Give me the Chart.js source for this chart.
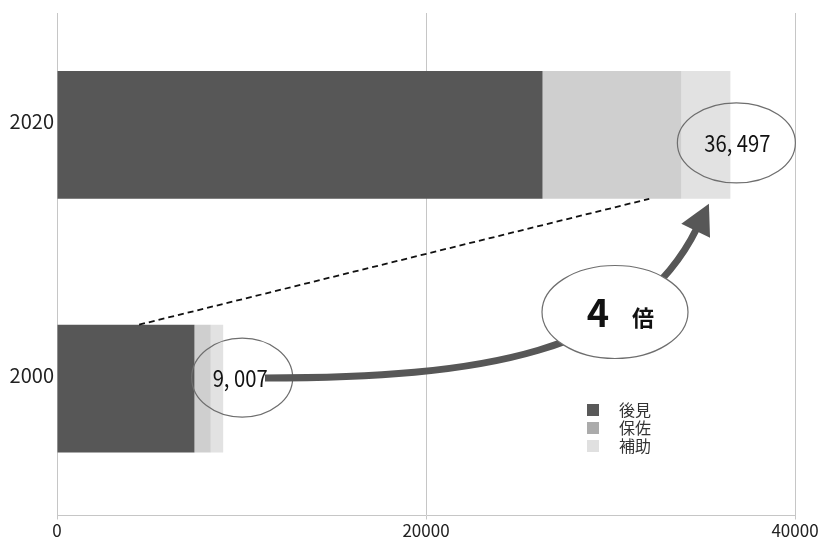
<!DOCTYPE html>
<html lang="ja">
<head>
<meta charset="utf-8">
<script src="https://cdn.jsdelivr.net/npm/chart.js@4.4.1/dist/chart.umd.min.js"></script>
<style>
  html, body { margin: 0; padding: 0; background: #fff; }
  #wrap { width: 822px; height: 541px; }
</style>
</head>
<body>
<div id="wrap"><canvas id="chart" width="822" height="541"></canvas></div>
<script>
// years on the category axis, top to bottom
const years = ['2020', '2000'];
// case counts per type
const koukenCounts = [26317, 7451];
const hosaCounts = [7530, 884];
const hojoCounts = [2650, 672];
const seriesNames = ['後見', '保佐', '補助'];
const xTicks = [0, 20000, 40000];
const ratioLabel = '4';

const barColors = ['#575757', '#cfcfcf', '#e2e2e2'];
const legendColors = ['#595959', '#ababab', '#e0e0e0'];
const FONT = '"Noto Sans CJK JP", "Noto Sans", sans-serif';

const totals = years.map((y, i) => koukenCounts[i] + hosaCounts[i] + hojoCounts[i]);
const fmt = n => n.toLocaleString('en-US').replace(',', ', ');

// narrow digits for the total bubbles
function condensedText(ctx, text, x, y, size, sx) {
  ctx.save();
  ctx.translate(x, y);
  ctx.scale(sx, 1);
  ctx.font = size + 'px ' + FONT;
  ctx.textAlign = 'center';
  ctx.textBaseline = 'middle';
  ctx.fillStyle = '#111';
  ctx.fillText(text, 0, 0);
  ctx.restore();
}

function ellipse(ctx, cx, cy, rx, ry, fill) {
  ctx.beginPath();
  ctx.ellipse(cx, cy, rx, ry, 0, 0, Math.PI * 2);
  if (fill) {
    ctx.fillStyle = fill;
    ctx.fill();
  }
  ctx.strokeStyle = '#6e6e6e';
  ctx.lineWidth = 1.2;
  ctx.stroke();
}

// grid lines start a little below the top of the plot
const gridTrim = {
  id: 'gridTrim',
  beforeDatasetsDraw(chart) {
    const a = chart.chartArea;
    chart.ctx.save();
    chart.ctx.fillStyle = '#fff';
    chart.ctx.fillRect(a.left - 2, 0, a.right - a.left + 4, 13);
    chart.ctx.restore();
  }
};

const annotations = {
  id: 'annotations',
  afterDatasetsDraw(chart) {
    const ctx = chart.ctx;
    const xs = chart.scales.x;
    const bars = chart.getDatasetMeta(0).data;
    const top2020 = bars[0], bar2000 = bars[1];
    const bottom2020 = top2020.y + top2020.height / 2;
    const top2000 = bar2000.y - bar2000.height / 2;

    // dashed guide between the two bars
    ctx.save();
    ctx.setLineDash([6, 4]);
    ctx.strokeStyle = '#111';
    ctx.lineWidth = 1.8;
    ctx.beginPath();
    ctx.moveTo(xs.getPixelForValue(4450), top2000);
    ctx.lineTo(xs.getPixelForValue(32100), bottom2020);
    ctx.stroke();
    ctx.restore();

    // total bubbles
    const c1x = xs.getPixelForValue(totals[0]) + 6, c1y = top2020.y + 8;
    ellipse(ctx, c1x, c1y, 59, 40, null);
    condensedText(ctx, fmt(totals[0]), c1x + 1, c1y, 23, 0.88);

    const c2x = xs.getPixelForValue(totals[1]) + 19, c2y = bar2000.y - 11;
    ellipse(ctx, c2x, c2y, 50.5, 39.5, null);
    condensedText(ctx, fmt(totals[1]), c2x - 2, c2y + 1, 23, 0.88);

    // curved arrow from the 2000 total up to the 2020 total
    const p0 = [265, 378], p1 = [480, 378], p2 = [635, 354], p3 = [697, 228];
    ctx.save();
    ctx.strokeStyle = '#575757';
    ctx.fillStyle = '#575757';
    ctx.lineWidth = 7;
    ctx.beginPath();
    ctx.moveTo(p0[0], p0[1]);
    ctx.bezierCurveTo(p1[0], p1[1], p2[0], p2[1], p3[0], p3[1]);
    ctx.stroke();
    const dx = p3[0] - p2[0], dy = p3[1] - p2[1];
    const len = Math.hypot(dx, dy);
    const ux = dx / len, uy = dy / len;
    const bx = p3[0] - ux * 3, by = p3[1] - uy * 3;
    const headLen = 30, half = 16;
    ctx.beginPath();
    ctx.moveTo(bx + ux * headLen, by + uy * headLen);
    ctx.lineTo(bx - uy * half, by + ux * half);
    ctx.lineTo(bx + uy * half, by - ux * half);
    ctx.closePath();
    ctx.fill();
    ctx.restore();

    // ratio bubble
    ellipse(ctx, 615, 312, 73, 46.5, '#fff');
    ctx.save();
    ctx.fillStyle = '#111';
    ctx.textBaseline = 'alphabetic';
    ctx.textAlign = 'center';
    ctx.font = 'bold 38px ' + FONT;
    ctx.fillText(ratioLabel, 598, 327);
    ctx.font = 'bold 22px ' + FONT;
    ctx.fillText('倍', 643, 326);
    ctx.restore();

    // legend
    ctx.save();
    ctx.font = '16px ' + FONT;
    ctx.textBaseline = 'middle';
    ctx.textAlign = 'left';
    seriesNames.forEach((name, i) => {
      const y = 410 + i * 18;
      ctx.fillStyle = legendColors[i];
      ctx.fillRect(587, y - 6, 12, 12);
      ctx.fillStyle = '#333';
      ctx.fillText(name, 619, y);
    });
    ctx.restore();
  }
};

const seriesValues = [koukenCounts, hosaCounts, hojoCounts];

new Chart(document.getElementById('chart'), {
  type: 'bar',
  data: {
    labels: years,
    datasets: seriesNames.map((name, i) => ({
      label: name,
      data: seriesValues[i],
      backgroundColor: barColors[i],
      borderWidth: 0,
      categoryPercentage: 1,
      barPercentage: 0.504,
    })),
  },
  options: {
    indexAxis: 'y',
    responsive: false,
    animation: false,
    devicePixelRatio: 1,
    layout: { padding: { top: 8, right: 27, left: 0, bottom: 0 } },
    plugins: {
      legend: { display: false },
      tooltip: { enabled: false },
    },
    scales: {
      x: {
        stacked: true,
        min: 0,
        max: 40000,
        afterBuildTicks: axis => { axis.ticks = xTicks.map(v => ({ value: v })); },
        afterFit: axis => { axis.height = 25.5; },
        grid: { color: '#c6c6c6', lineWidth: 1, tickLength: 4 },
        border: { color: '#c6c6c6' },
        ticks: {
          color: '#222',
          font: { family: FONT, size: 17 },
          padding: 1,
          maxRotation: 0,
          callback: v => String(v),
        },
      },
      y: {
        stacked: true,
        afterFit: axis => {
          axis.width = 57;
          axis.paddingTop = 0;
          axis.paddingBottom = 0;
        },
        grid: { display: false, drawTicks: false },
        border: { display: true, color: '#c6c6c6' },
        ticks: {
          color: '#222',
          font: { family: FONT, size: 20 },
          padding: 3,
          labelOffset: -13,
        },
      },
    },
  },
  plugins: [gridTrim, annotations],
});
</script>
</body>
</html>
